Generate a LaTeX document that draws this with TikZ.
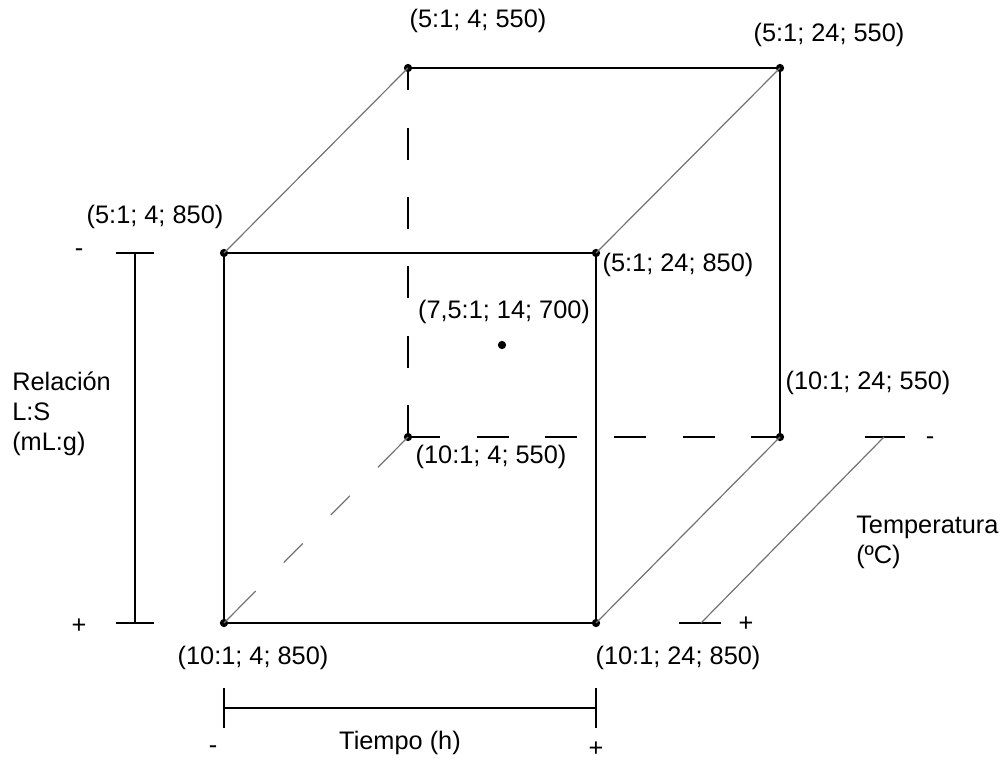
\documentclass[tikz,border=0pt]{standalone}
\usepackage{fontspec}
\setmainfont{Liberation Sans}
\begin{document}
\begin{tikzpicture}[x=0.75pt,y=-0.75pt,
  every node/.style={font=\fontsize{19}{22.5}\selectfont, inner sep=0pt},
  dot/.style={circle, fill=black, inner sep=0pt, minimum size=6.2pt},
  edge/.style={line width=1.5pt, black},
  diag/.style={line width=0.9pt, black!55},
  backdash/.style={line width=1.5pt, black, dash pattern=on 24pt off 28pt},
  diagdash/.style={line width=0.9pt, black!55, dash pattern=on 33.75pt off 30pt on 20.25pt off 30pt on 20.25pt off 30pt on 40pt},
  bar/.style={line width=1.5pt, black},
  lab/.style={anchor=center},
  sign/.style={anchor=base}]
\useasboundingbox (0,0) rectangle (1007,763);

% cube vertices
\node[dot] (ftl) at (224,253) {};
\node[dot] (ftr) at (596,253) {};
\node[dot] (fbl) at (224,623) {};
\node[dot] (fbr) at (596,623) {};
\node[dot] (btl) at (408,68) {};
\node[dot] (btr) at (780,68) {};
\node[dot] (bbl) at (408,437) {};
\node[dot] (bbr) at (780,437) {};
\node[dot] (ctr) at (502,345) {};

% front face
\draw[edge] (ftl.center) -- (ftr.center) -- (fbr.center) -- (fbl.center) -- cycle;
% back face solid
\draw[edge] (btl.center) -- (btr.center) -- (bbr.center);
% hidden edges
\draw[backdash] (bbl.center) -- (btl.center);
\draw[line width=1.5pt, black, dash pattern=on 24pt off 27.5pt] (bbl.center) -- (bbr.center);
\draw[diagdash] (fbl.center) -- (bbl.center);
% depth edges
\draw[diag] (ftl.center) -- (btl.center);
\draw[diag] (ftr.center) -- (btr.center);
\draw[diag] (fbr.center) -- (bbr.center);

% coordinate labels
\node[lab] (l1) at (478,21) {(5:1; 4; 550)};
\node[lab] (l2) at (829,35) {(5:1; 24; 550)};
\node[lab] (l3) at (155,217) {(5:1; 4; 850)};
\node[lab] (l4) at (678,265) {(5:1; 24; 850)};
\node[lab] (l5) at (504,312) {(7,5:1; 14; 700)};
\node[lab] (l6) at (868,383) {(10:1; 24; 550)};
\node[lab] (l7) at (491,457) {(10:1; 4; 550)};
\node[lab] (l8) at (253,658) {(10:1; 4; 850)};
\node[lab] (l9) at (678,658) {(10:1; 24; 850)};

% left scale bar
\coordinate (lt1) at (116,253); \coordinate (lt2) at (154,253);
\coordinate (lb1) at (116,623); \coordinate (lb2) at (154,623);
\coordinate (lt) at (135,253); \coordinate (lb) at (135,623);
\draw[bar] (lt1) -- (lt2);
\draw[bar] (lb1) -- (lb2);
\draw[bar] (lt) -- (lb);
\node[sign] (lminus) at (79,257) {-};
\node[sign] (lplus) at (79,633) {+};
\node[anchor=north west, align=left, text depth=0pt] (rel) at (12,372) {Relación\\L:S\\(mL:g)};

% bottom scale bar
\coordinate (bl1) at (224,688); \coordinate (bl2) at (224,728);
\coordinate (br1) at (596,688); \coordinate (br2) at (596,728);
\coordinate (bl) at (224,708); \coordinate (br) at (596,708);
\draw[bar] (bl1) -- (bl2);
\draw[bar] (br1) -- (br2);
\draw[bar] (bl) -- (br);
\node[sign] (bminus) at (213,753) {-};
\node[sign] (bplus) at (596,756) {+};
\node[lab] (tiempo) at (400,743) {Tiempo (h)};

% right (depth) scale bar
\coordinate (rt1) at (865,437); \coordinate (rt2) at (905,437);
\coordinate (rb1) at (679,623); \coordinate (rb2) at (721,623);
\coordinate (rt) at (884,437); \coordinate (rb) at (701,623);
\draw[bar] (rt1) -- (rt2);
\draw[bar] (rb1) -- (rb2);
\draw[diag] (rt) -- (rb);
\node[sign] (rminus) at (930,444) {-};
\node[sign] (rplus) at (746,631) {+};
\node[anchor=north west, align=left] (temp) at (856,516) {Temperatura\\(ºC)};
\end{tikzpicture}
\end{document}
